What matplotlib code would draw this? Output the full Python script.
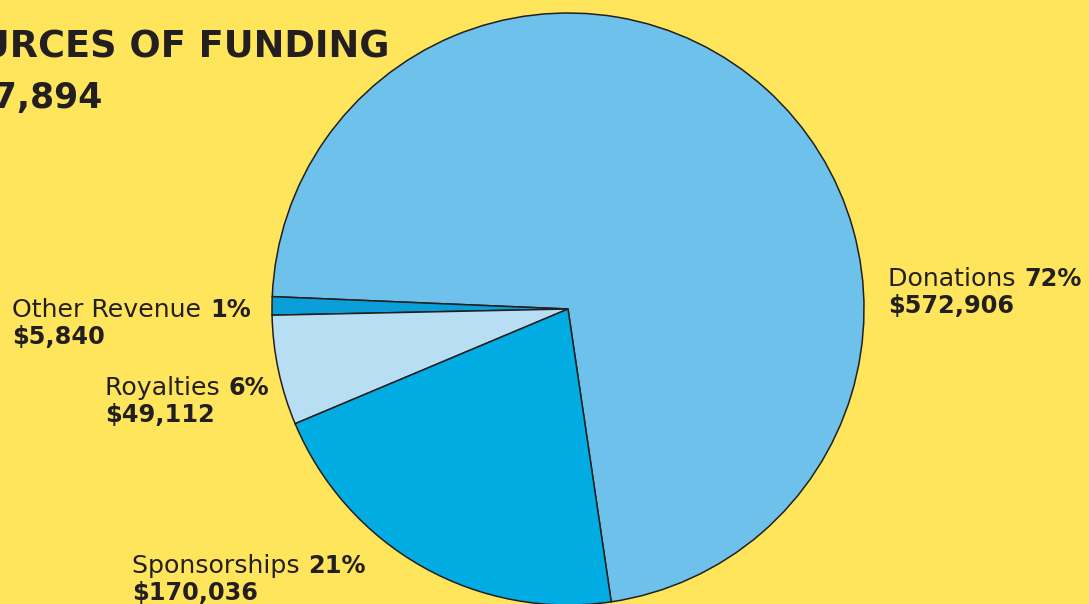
import matplotlib.pyplot as plt

# funding data
labels = ["Donations", "Other Revenue", "Royalties", "Sponsorships"]
percents = [72, 1, 6, 21]
amounts = ["$572,906", "$5,840", "$49,112", "$170,036"]
total = "$797,894"

colors = ["#6dc1ea", "#0a9fd9", "#b8def3", "#00ace2"]
bg = "#ffe55c"
ink = "#231f20"

W, H = 1089, 604
fig = plt.figure(figsize=(W / 100, H / 100), dpi=100, facecolor=bg)
ax = fig.add_axes([0, 0, 1, 1])
ax.set_facecolor(bg)

ax.pie(percents, colors=colors, startangle=-81.6, counterclock=True,
       center=(568, H - 309), radius=296,
       wedgeprops={"edgecolor": ink, "linewidth": 1.1})
ax.set_xlim(0, W)
ax.set_ylim(0, H)
ax.set_aspect("equal", adjustable="box")
ax.axis("off")

# title, cut off on the left like the original
ax.text(390, H - 58, "SOURCES OF FUNDING", ha="right", va="baseline",
        fontsize=26.5, fontweight="bold", color=ink)
ax.text(103, H - 108, total, ha="right", va="baseline",
        fontsize=25, fontweight="bold", color=ink)

# label positions (x, baseline of first line) in pixels from top-left
label_pos = [(888, 286), (12, 317), (105, 395), (132, 573)]

fig.canvas.draw()
renderer = fig.canvas.get_renderer()
for name, pct, amt, (x, y) in zip(labels, percents, amounts, label_pos):
    t = ax.text(x, H - y, name + " ", ha="left", va="baseline",
                fontsize=18.2, color=ink)
    bb = t.get_window_extent(renderer)
    ax.text(bb.x1 + 1, H - y, f"{pct}%", ha="left", va="baseline",
            fontsize=17.3, fontweight="bold", color=ink)
    ax.text(x, H - y - 27, amt, ha="left", va="baseline",
            fontsize=17.3, fontweight="bold", color=ink)

fig.savefig("out.png", dpi=100, facecolor=bg)
